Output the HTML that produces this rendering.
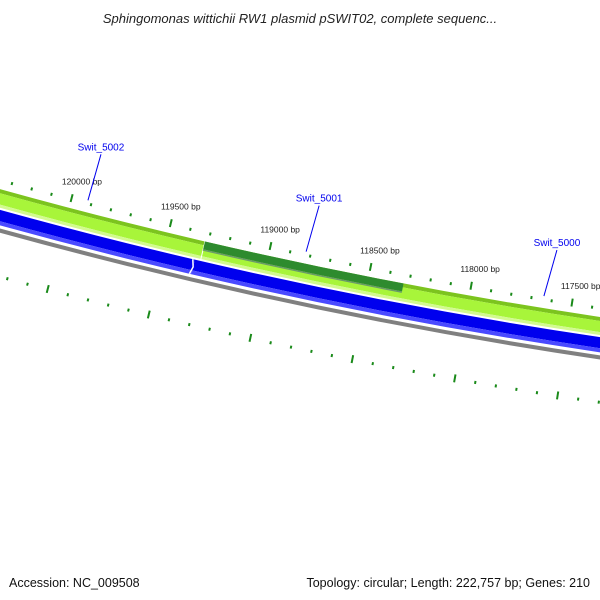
<!DOCTYPE html>
<html><head><meta charset="utf-8"><style>
body{margin:0;background:#fff}
svg{display:block;font-family:"Liberation Sans","DejaVu Sans",sans-serif}
</style></head><body>
<svg id="map" width="600" height="600" viewBox="0 0 600 600">
<text x="300" y="23" text-anchor="middle" font-size="13" font-style="italic" fill="#222">Sphingomonas wittichii RW1 plasmid pSWIT02, complete sequenc...</text>
<g id="rings"></g>
<text x="9" y="587" font-size="12.5" fill="#111">Accession: NC_009508</text>
<text x="590" y="587" text-anchor="end" font-size="12.5" fill="#111">Topology: circular; Length: 222,757 bp; Genes: 210</text>
</svg>
<script>
const tickStart = 117000;
const tickEnd = 120600;
const labelMax = 120000;
const minorStep = 100;
const majorStep = 500;
const genesFwd = [{name:"Swit_5002",from:119317,to:121000,color:"#a8f53a"},{name:"Swit_5000",from:116000,to:119317,color:"#a8f53a"}];
const geneOverlay = [{name:"Swit_5001",from:118327,to:119317}];
const blueSegs = [{from:119345,to:121000},{from:116000,to:119345}];
const geneLabels = ["Swit_5002","Swit_5001","Swit_5000"];
const geneLabelBp = [119920,118824,117641];

const NS="http://www.w3.org/2000/svg";
const CX=1340, CY=-4628, R0=5000, PHI0=1.7868, K=4.1e-5, REF=119000;
const g=document.getElementById('rings');
function ang(bp){return PHI0+(bp-REF)*K;}
function pt(bp,r){const a=ang(bp);return [CX+r*Math.cos(a),CY+r*Math.sin(a)];}
function mk(tag,attrs,name){const e=document.createElementNS(NS,tag);for(const k in attrs)e.setAttribute(k,attrs[k]);
 
 
 g.appendChild(e);return e;}
function band(b1,b2,r1,r2,fill,name){
 const a=pt(b1,r1),b=pt(b2,r1),c=pt(b2,r2),d=pt(b1,r2);
 const sw=ang(b2)>ang(b1)?1:0;
 mk('path',{d:`M${a} A${r1},${r1} 0 0 ${sw} ${b} L${c} A${r2},${r2} 0 0 ${1-sw} ${d} Z`,fill:fill},name);
}
genesFwd.forEach(s=>{
 band(s.from,s.to,R0,R0+4,"#7cc41e","forward-gene-edge");
 band(s.from,s.to,R0+4,R0+15,s.color,"forward-gene");
 band(s.from,s.to,R0+15,R0+18,"#d2fa90","forward-gene-shade");
});
{const p1=pt(genesFwd[0].from,R0),p2=pt(genesFwd[0].from,R0+18);
 mk('line',{x1:p1[0],y1:p1[1],x2:p2[0],y2:p2[1],stroke:"#fff","stroke-width":1},"gene-boundary");}
geneOverlay.forEach(s=>{
 band(s.from,s.to,R0,R0+8,"#2e8b2e","gene-overlay");
 band(s.from,s.to,R0+8,R0+9.5,"#6a9a6a","gene-overlay-edge");
});
blueSegs.forEach(s=>{
 band(s.from,s.to,R0+20,R0+31,"#0000ee","reverse-gene");
 band(s.from,s.to,R0+31,R0+35,"#4a4aff","reverse-gene-shade");
});
{const p1=pt(blueSegs[0].from+10,R0+20),p2=pt(blueSegs[0].from,R0+27.5),p3=pt(blueSegs[0].from+10,R0+35);
 mk('polyline',{points:`${p1} ${p2} ${p3}`,fill:"none",stroke:"#fff","stroke-width":1.5},"gene-arrow-notch");}
band(116000,121000,R0+38,R0+42,"#808080","backbone-ring");
for(let bp=tickStart;bp<=tickEnd;bp+=minorStep){
 const major=bp%majorStep===0;
 const a=pt(bp,major?R0-14:R0-10),b=pt(bp,major?R0-6:R0-7);
 mk('line',{x1:a[0],y1:a[1],x2:b[0],y2:b[1],stroke:"#1a8a1a","stroke-width":2},major?"major-tick":"minor-tick");
 const c=pt(bp,major?R0+80:R0+83),d=pt(bp,major?R0+88:R0+86);
 mk('line',{x1:c[0],y1:c[1],x2:d[0],y2:d[1],stroke:"#1a8a1a","stroke-width":2},major?"outer-major-tick":"outer-minor-tick");
 if(major && bp<=labelMax){const t=pt(bp,R0-27);
  const e=mk('text',{x:t[0]+6,y:t[1]+3,"text-anchor":"middle","font-size":"8.5",fill:"#222"},"tick-label");
  e.textContent=bp+" bp";}
}
geneLabels.forEach((n,i)=>{
 const e0=pt(geneLabelBp[i],R0-12);
 mk('line',{x1:e0[0],y1:e0[1],x2:e0[0]+13,y2:e0[1]-46,stroke:"#0000ee","stroke-width":1},"gene-label-line");
 const t=mk('text',{x:e0[0]+13,y:e0[1]-50,"text-anchor":"middle","font-size":"10",fill:"#0000ee"},"gene-label");
 t.textContent=n;
});
</script>
</body></html>
